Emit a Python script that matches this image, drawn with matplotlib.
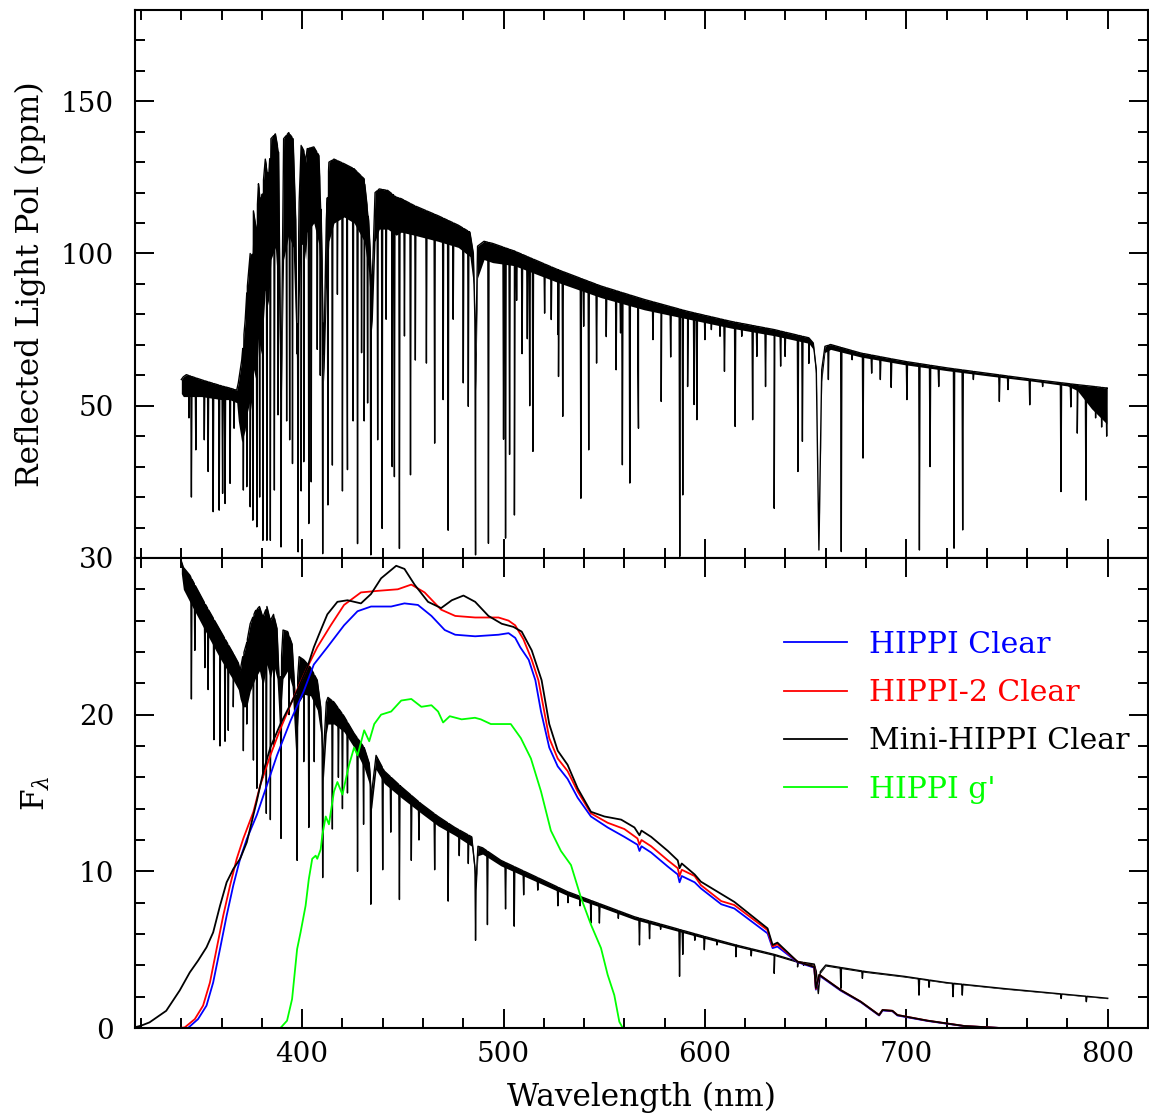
import numpy as np
import matplotlib
matplotlib.use('Agg')
import matplotlib.pyplot as plt
from matplotlib.ticker import MultipleLocator

plt.rcParams['font.family'] = ['DejaVu Serif']
plt.rcParams['mathtext.fontset'] = 'dejavuserif'
FS = 20          # подписи делений
FS_LAB = 22.5    # подписи осей
FS_LEG = 21.5    # легенда

# --- верхняя панель: поляризация отражённого света (ppm) ---
# верхняя огибающая спектра и нижний край плотного "леса" линий
pol_wl = [340.0, 341.0, 342.5, 346.0, 350.0, 355.0, 360.0, 364.0, 367.5, 368.3,
          370.0, 371.7, 372.5, 374.2, 375.0, 375.8, 377.2, 378.3, 379.7, 381.7,
          383.3, 384.5, 386.7, 388.3, 389.5, 390.8, 393.3, 395.5, 396.8, 397.5,
          398.5, 399.5, 400.8, 401.7, 402.5, 405.8, 408.3, 409.5, 410.8, 412.0,
          413.3, 415.8, 420.8, 425.8, 430.8, 433.0, 434.7, 436.2, 438.3, 442.5,
          446.7, 449.2, 455.8, 467.5, 477.5, 483.3, 485.0, 486.2, 487.1, 490.3,
          494.6, 505.4, 526.9, 548.4, 569.9, 591.4, 612.9, 634.4, 651.6, 653.8,
          655.3, 656.6, 658.0, 659.6, 662.4, 677.4, 698.9, 720.4, 741.9, 763.4,
          780.0, 784.9, 792.0, 799.6]
pol_top = [58.6, 59.5, 60.2, 59.4, 58.5, 57.5, 56.5, 55.8, 55.1, 57.5,
           65.0, 78.0, 87.0, 100.0, 95.0, 114.0, 108.0, 122.9, 115.7, 131.0,
           124.5, 137.7, 139.3, 133.3, 50.9, 137.7, 139.7, 137.7, 111.0, 67.0,
           116.8, 135.5, 133.8, 130.0, 134.4, 135.0, 132.2, 111.0, 67.0, 111.0,
           130.0, 131.0, 129.5, 127.8, 124.5, 111.0, 89.0, 120.0, 121.2, 120.7,
           118.5, 118.0, 115.7, 112.4, 109.3, 107.0, 100.0, 67.0, 102.4, 104.0,
           103.3, 100.8, 94.7, 89.3, 84.9, 81.0, 77.7, 75.0, 72.3, 70.6,
           61.8, 2.6, 61.8, 69.5, 70.1, 67.3, 64.6, 62.4, 60.5, 58.6,
           57.3, 56.9, 56.4, 55.8]
pol_floor = [54, 53, 53, 53, 53, 52.5, 52, 52, 51, 45,
             38, 42, 47, 52, 48, 62, 58, 72, 67, 88,
             83, 98, 102, 85, 45, 98, 106, 102, 75, 58,
             85, 103, 103, 98, 107, 110, 103, 88, 58, 88,
             104, 110, 112, 110, 104, 94, 75, 104, 108, 108,
             106, 107, 106, 104, 102, 99, 90, 55, 92, 98,
             97, 96, 90.5, 85.5, 81.5, 78.5, 75.5, 73, 70.5, 68.5,
             58, 2.6, 58, 67.5, 68.5, 66, 63.5, 61.5, 59.7, 58,
             56.5, 55, 49, 44]
# отдельные линии поглощения: длина волны (nm) и минимум (ppm)
pol_line_wl = [343.8, 345.0, 347.2, 351.4, 353.3, 355.8, 358.8, 360.5, 361.7, 364.2,
               366.2, 370.8, 372.5, 374.2, 375.5, 377.5, 378.9, 380.5, 382.5, 384.2,
               386.2, 388.0, 389.5, 392.3, 393.8, 395.2, 398.0, 399.5, 400.8, 403.3,
               404.5, 407.5, 409.0, 410.2, 412.8, 415.0, 417.5, 420.0, 422.2, 422.5,
               425.3, 427.5, 429.5, 430.8, 432.5, 434.1, 437.5, 439.7, 441.7, 444.7,
               445.8, 448.3, 450.8, 453.8, 456.2, 461.7, 465.8, 470.0, 472.5, 475.0,
               480.0, 482.5, 486.1, 492.5, 500.0, 501.0, 503.0, 505.4, 506.5, 509.2,
               511.8, 513.0, 514.6, 520.4, 523.7, 526.9, 527.3, 529.4, 538.4, 539.8,
               542.3, 546.2, 551.0, 555.9, 558.1, 559.0, 562.7, 566.7, 567.0, 574.2,
               578.3, 578.5, 583.0, 587.5, 589.0, 591.4, 594.6, 596.0, 600.0, 603.2,
               607.5, 609.7, 615.0, 618.3, 623.7, 625.8, 630.1, 634.4, 637.6, 639.8,
               646.2, 648.4, 651.6, 661.3, 667.7, 673.1, 678.5, 682.8, 687.1, 692.5,
               700.3, 706.5, 711.8, 716.1, 723.7, 728.0, 733.3, 746.2, 750.5, 761.3,
               767.7, 776.8, 781.7, 784.9, 789.2, 794.0, 797.0, 799.5]
pol_line_min = [46, 20, 35.5, 38.8, 28.4, 15.2, 15.7, 21.2, 17.9, 24.5,
                42.6, 22.3, 23.4, 16.8, 12.4, 10.2, 20, 5.8, 5.8, 5.8,
                22.3, 47, 3.6, 45, 38.8, 31, 2.0, 22, 31.6, 11.3,
                25, 68.5, 60, 1.4, 17.4, 30.5, 86.6, 22, 94.8, 29,
                45, 4.7, 67.4, 45, 50.9, 1.0, 38.8, 9.7, 78.4, 30,
                26.7, 3.1, 72.9, 27.3, 65, 64, 37.7, 52, 9.1, 78.4,
                57.5, 49.8, 1.0, 4.8, 39, 6.5, 34, 14.1, 84.6, 67.1,
                72.0, 50, 35, 80.4, 78.3, 73.4, 59.6, 46.5, 19.6, 76.1,
                35.5, 64.0, 72.7, 61.8, 73.9, 30.6, 24.6, 64.0, 42.6, 71.7,
                51.4, 78.3, 66, 0.5, 20.7, 56.3, 50.4, 45.4, 71.7, 75.0,
                72.8, 61.3, 43.2, 72.8, 45.4, 66.2, 56.3, 16.3, 63.0, 66.2,
                28.4, 38.3, 63.9, 58.6, 2.1, 65.1, 32.8, 60.7, 58.6, 56.0,
                52, 2.6, 30, 56.3, 3.2, 9.2, 58.6, 51.4, 55.3, 50.3,
                56.3, 21.8, 49.6, 41, 19, 46, 43, 40]

# --- нижняя панель: поток звезды F_lambda ---
flux_wl = [340.0, 341.0, 344.2, 350.8, 359.2, 365.8, 368.3, 369.2, 370.5, 372.5,
           374.2, 376.7, 378.8, 380.5, 382.5, 384.2, 385.8, 387.5, 388.8, 390.5,
           392.8, 395.0, 396.8, 398.5, 400.8, 404.2, 407.5, 409.2, 410.5, 412.0,
           412.8, 415.8, 420.8, 425.8, 430.8, 433.3, 434.5, 436.7, 440.8, 449.2,
           459.2, 467.5, 475.8, 484.2, 485.6, 486.4, 487.3, 489.6, 498.7, 515.3,
           531.8, 548.4, 565.0, 581.6, 598.2, 615.4, 634.4, 646.0, 654.3, 655.3,
           656.3, 657.3, 660.0, 680.0, 698.9, 720.0, 748.5, 775.0, 800.0]
flux_top = [29.8, 29.4, 28.9, 27.3, 25.4, 23.9, 23.3, 22.8, 23.7, 24.6,
            25.8, 26.6, 26.9, 26.2, 26.9, 26.0, 26.4, 25.5, 21.5, 25.4,
            25.3, 24.5, 20.5, 23.7, 23.5, 23.0, 22.2, 20.5, 17.3, 20.8,
            21.1, 20.8, 19.9, 18.8, 17.9, 16.9, 15.0, 17.4, 16.4, 15.4,
            14.3, 13.5, 12.8, 12.2, 10.5, 9.5, 11.6, 11.5, 10.7, 9.7,
            8.7, 7.9, 7.1, 6.5, 5.9, 5.3, 4.7, 4.25, 4.08, 3.6,
            2.2, 3.6, 4.02, 3.6, 3.3, 2.9, 2.52, 2.2, 1.9]
flux_floor = [29.0, 28.0, 27.2, 25.6, 23.6, 22.2, 21.6, 21.0, 20.5, 20.5,
              21.5, 22.3, 22.8, 21.8, 23.2, 22.3, 23.2, 22.3, 19.2, 22.3,
              22.8, 21.8, 17.5, 20.8, 21.3, 21.2, 20.3, 18.8, 15.8, 18.8,
              19.4, 19.4, 18.9, 17.9, 16.6, 15.6, 14.0, 16.5, 15.6, 14.7,
              13.7, 12.9, 12.3, 11.6, 9.8, 8.8, 11.0, 11.1, 10.35, 9.4,
              8.45, 7.7, 6.92, 6.35, 5.77, 5.2, 4.62, 4.18, 4.0, 3.5,
              2.2, 3.5, 3.95, 3.54, 3.25, 2.86, 2.48, 2.17, 1.87]
flux_line_wl = [345.0, 346.7, 351.7, 353.3, 356.2, 359.2, 361.7, 363.3, 365.8, 370.8,
                372.5, 375.8, 377.5, 380.5, 382.2, 384.2, 386.0, 389.5, 393.5, 397.5,
                400.8, 403.3, 406.0, 410.2, 415.0, 418.0, 420.0, 422.5, 427.5, 430.5,
                434.1, 440.0, 444.0, 448.3, 454.2, 458.0, 465.8, 472.5, 478.0, 482.5,
                486.1, 492.0, 501.0, 505.3, 510.0, 517.0, 527.0, 532.0, 538.0, 543.4,
                547.6, 557.0, 561.0, 567.5, 572.5, 578.0, 587.4, 589.0, 595.0, 599.7,
                606.0, 615.4, 623.0, 634.4, 646.0, 649.0, 667.5, 678.2, 706.3, 711.3,
                723.2, 727.8, 776.9, 789.4]
flux_line_min = [21.0, 24.1, 23.0, 21.6, 18.4, 18.0, 18.3, 19.0, 20.5, 17.7,
                 19.4, 17.1, 15.3, 16.0, 13.7, 13.3, 18.0, 12.1, 20.0, 10.7,
                 17.0, 12.8, 17.0, 9.6, 12.7, 16.0, 14.0, 15.0, 10.0, 13.0,
                 7.9, 10.1, 12.5, 8.2, 10.7, 12.0, 10.1, 8.1, 11.0, 10.5,
                 5.6, 6.6, 7.6, 6.5, 8.5, 8.8, 7.8, 8.0, 7.8, 6.7,
                 6.7, 7.0, 7.2, 5.3, 5.7, 6.3, 3.3, 4.7, 5.6, 5.0,
                 5.3, 4.55, 4.6, 3.49, 3.9, 4.0, 2.53, 3.17, 2.1, 2.6,
                 2.0, 2.1, 1.88, 1.68]

# --- полосы пропускания фильтров ---
hippi_wl = [340.0, 343.3, 348.3, 352.5, 355.8, 359.2, 362.5, 365.8, 369.2, 372.5,
            377.5, 382.5, 387.5, 394.2, 400.8, 405.8, 412.5, 420.8, 427.5, 434.2,
            444.2, 450.8, 457.5, 464.2, 470.8, 476.0, 485.9, 497.5, 502.5, 505.8,
            508.3, 512.5, 515.8, 518.6, 522.7, 526.9, 531.8, 536.8, 543.4, 551.7,
            560.0, 566.5, 567.5, 568.5, 573.3, 581.6, 586.5, 587.4, 588.5, 594.9,
            598.0, 608.1, 614.6, 631.1, 633.6, 636.0, 646.0, 654.3, 655.1, 656.8,
            667.5, 677.4, 686.5, 688.2, 693.1, 695.6, 710.6, 728.8, 747.0]
hippi_val = [0.0, 0.0, 0.57, 1.43, 2.9, 5.04, 7.17, 9.1, 10.8, 12.06,
             13.6, 15.5, 17.4, 19.6, 21.5, 23.2, 24.3, 25.7, 26.6, 26.9,
             26.9, 27.1, 27.0, 26.3, 25.4, 25.1, 25.0, 25.1, 25.2, 24.9,
             24.3, 23.5, 22.2, 20.2, 17.9, 16.7, 15.9, 14.7, 13.5, 12.8,
             12.2, 11.7, 11.3, 11.6, 11.2, 10.3, 9.8, 9.3, 9.7, 9.3,
             8.91, 7.9, 7.63, 6.04, 5.1, 5.2, 4.2, 3.85, 2.45, 3.35,
             2.38, 1.65, 0.8, 1.12, 1.07, 0.8, 0.45, 0.12, 0.0]
hippi2_wl = [339.0, 341.7, 346.7, 350.8, 354.2, 357.5, 360.8, 364.2, 367.5, 370.8,
             375.8, 379.2, 384.2, 389.2, 395.8, 402.5, 407.5, 414.2, 420.8, 429.2,
             437.5, 447.5, 454.2, 460.8, 469.0, 476.0, 485.9, 497.5, 502.5, 505.8,
             509.9, 514.0, 517.3, 522.7, 526.9, 531.8, 536.8, 543.4, 551.7, 560.0,
             566.5, 567.5, 568.5, 573.3, 581.6, 586.5, 587.4, 588.5, 594.9, 598.0,
             608.1, 614.6, 631.1, 633.6, 636.0, 646.0, 654.3, 655.1, 656.8, 667.5,
             677.4, 686.5, 688.2, 693.1, 695.6, 710.6, 728.8, 747.0]
hippi2_val = [0.0, 0.04, 0.57, 1.43, 2.9, 5.04, 7.17, 9.1, 10.8, 12.1,
              13.8, 15.5, 17.4, 19.1, 21.1, 23.0, 24.3, 25.7, 27.0, 27.8,
              27.9, 28.0, 28.3, 27.8, 26.7, 26.3, 26.2, 26.2, 26.0, 25.7,
              24.8, 23.5, 22.2, 18.5, 17.2, 16.4, 15.1, 13.7, 13.1, 12.7,
              12.1, 11.7, 12.0, 11.6, 10.7, 10.2, 9.7, 10.1, 9.7, 9.12,
              8.1, 7.85, 6.25, 5.2, 5.35, 4.23, 3.9, 2.5, 3.4, 2.42,
              1.68, 0.83, 1.15, 1.1, 0.83, 0.47, 0.13, 0.0]
mini_wl = [317.0, 320.0, 324.2, 332.5, 339.2, 344.2, 348.3, 352.5, 355.8, 359.2,
           362.5, 365.8, 369.2, 372.5, 377.5, 380.8, 384.2, 389.2, 397.5, 402.5,
           405.8, 408.3, 412.5, 417.5, 422.5, 429.2, 434.2, 439.2, 446.7, 450.8,
           455.8, 462.5, 469.0, 474.3, 480.1, 485.9, 492.5, 499.1, 504.9, 509.0,
           514.0, 518.9, 522.7, 526.9, 531.8, 536.8, 543.4, 550.1, 558.4, 565.0,
           567.5, 568.5, 573.3, 581.6, 586.5, 587.4, 588.5, 594.9, 598.0, 614.6,
           631.1, 633.6, 636.0, 646.0, 654.3, 655.1, 656.8, 667.5, 677.4, 686.5,
           688.2, 693.1, 695.6, 710.6, 728.8, 747.0]
mini_val = [0.05, 0.15, 0.36, 1.1, 2.4, 3.55, 4.3, 5.15, 6.1, 7.8,
            9.3, 10.15, 10.8, 11.85, 14.5, 16.4, 17.9, 19.4, 21.5, 23.0,
            24.3, 25.1, 26.4, 27.2, 27.3, 27.1, 27.7, 28.7, 29.5, 29.3,
            28.3, 27.2, 26.8, 27.3, 27.6, 27.2, 26.3, 25.8, 25.6, 25.3,
            24.1, 22.2, 19.4, 17.7, 16.8, 15.3, 13.8, 13.5, 13.3, 12.8,
            12.3, 12.6, 12.2, 11.3, 10.7, 10.2, 10.5, 9.8, 9.34, 8.05,
            6.36, 5.3, 5.45, 4.23, 3.9, 2.55, 3.4, 2.42, 1.68, 0.83,
            1.15, 1.1, 0.83, 0.47, 0.13, 0.0]
g_wl = [317.0, 389.2, 392.5, 395.0, 397.5, 399.2, 401.7, 403.3, 405.0, 406.7,
        407.5, 409.2, 410.0, 411.7, 413.3, 415.8, 417.5, 420.0, 423.3, 425.8,
        427.5, 430.8, 433.3, 435.8, 439.2, 444.2, 449.2, 454.2, 459.2, 464.2,
        467.5, 470.0, 473.3, 479.2, 485.8, 488.7, 493.7, 498.7, 503.6, 508.6,
        513.6, 518.6, 523.5, 528.5, 533.5, 538.5, 543.4, 548.4, 551.7, 555.0,
        557.5, 559.2, 820.0]
g_val = [0.0, 0.0, 0.47, 1.85, 5.04, 6.1, 7.8, 9.5, 10.8, 11.0,
         10.8, 11.4, 12.3, 13.5, 13.0, 15.1, 15.7, 14.9, 16.8, 17.9,
         17.4, 19.0, 18.3, 19.4, 20.0, 20.2, 20.9, 21.0, 20.5, 20.6,
         20.2, 19.5, 19.9, 19.7, 19.8, 19.7, 19.4, 19.4, 19.4, 18.5,
         17.2, 15.1, 12.6, 11.3, 10.4, 8.3, 6.6, 5.1, 3.4, 2.1,
         0.4, 0.0, 0.0]

labels = ['HIPPI Clear', 'HIPPI-2 Clear', 'Mini-HIPPI Clear', "HIPPI g'"]
colors = ['#0000ff', '#ff0000', '#000000', '#00ff00']


def add_lines(wl, top, line_wl, line_min, hw=0.3):
    # вставляем узкие V-образные провалы в огибающую
    wl = np.asarray(wl, float)
    top = np.asarray(top, float)
    lw = np.asarray(line_wl, float)
    x = np.concatenate([wl, lw - hw, lw, lw + hw])
    y = np.concatenate([top, np.interp(lw - hw, wl, top), line_min,
                        np.interp(lw + hw, wl, top)])
    order = np.argsort(x, kind='stable')
    return x[order], y[order]


def style_axis(ax, ymajor, yminor):
    ax.xaxis.set_major_locator(MultipleLocator(100))
    ax.xaxis.set_minor_locator(MultipleLocator(20))
    ax.yaxis.set_major_locator(MultipleLocator(ymajor))
    ax.yaxis.set_minor_locator(MultipleLocator(yminor))
    ax.tick_params(which='both', direction='in', top=True, right=True, width=1.4)
    ax.tick_params(which='major', length=13.5)
    ax.tick_params(which='minor', length=7)
    ax.tick_params(axis='y', pad=15, labelsize=FS)
    ax.tick_params(axis='x', pad=9, labelsize=FS)
    for s in ax.spines.values():
        s.set_linewidth(1.5)


fig = plt.figure(figsize=(11.49, 11.15), dpi=100)
ax1 = fig.add_axes([0.1175, 0.4996, 0.8816, 0.4915])
ax2 = fig.add_axes([0.1175, 0.078, 0.8816, 0.4216], sharex=ax1)

# верх
ax1.fill_between(pol_wl, pol_floor, pol_top, color='k', lw=0)
x, y = add_lines(pol_wl, pol_top, pol_line_wl, pol_line_min)
ax1.plot(x, y, color='k', lw=1.0)
ax1.set_xlim(317, 820)
ax1.set_ylim(0, 180)
style_axis(ax1, 50, 10)
ax1.set_yticks([50, 100, 150])
ax1.tick_params(labelbottom=False)
ax1.set_ylabel('Reflected Light Pol (ppm)', fontsize=FS_LAB)
ax1.yaxis.set_label_coords(-0.088, 0.5)

# низ
ax2.fill_between(flux_wl, flux_floor, flux_top, color='k', lw=0)
x, y = add_lines(flux_wl, flux_top, flux_line_wl, flux_line_min)
ax2.plot(x, y, color='k', lw=1.0)
for (fw, fv), lab, c in zip([(hippi_wl, hippi_val), (hippi2_wl, hippi2_val),
                             (mini_wl, mini_val), (g_wl, g_val)], labels, colors):
    ax2.plot(fw, fv, color=c, lw=1.3, label=lab)
ax2.set_ylim(0, 30)
style_axis(ax2, 10, 2)
ax2.set_xlabel('Wavelength (nm)', fontsize=FS_LAB, labelpad=10)
ax2.set_ylabel(r'F$_\lambda$', fontsize=FS_LAB)
ax2.yaxis.set_label_coords(-0.082, 0.5)

leg = ax2.legend(loc='upper left', bbox_to_anchor=(0.641, 0.845), frameon=False,
                 fontsize=FS_LEG, handlelength=2.1, handletextpad=0.75,
                 labelspacing=0.68, borderpad=0, borderaxespad=0,
                 labelcolor='linecolor')

fig.savefig('out.png', dpi=100)
